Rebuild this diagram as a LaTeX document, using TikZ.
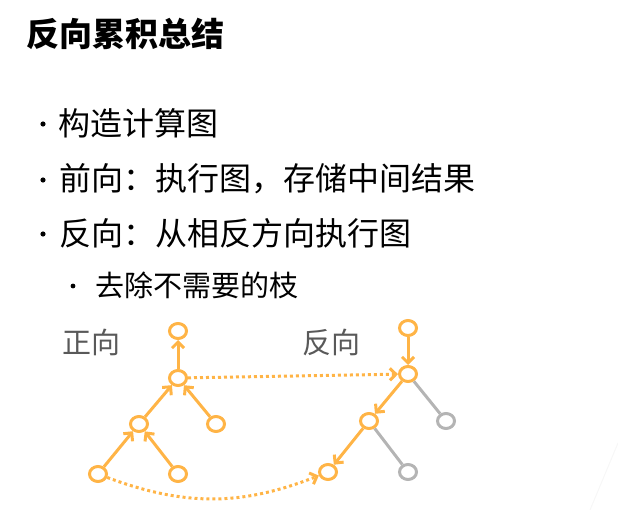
\documentclass[tikz,border=0pt]{standalone}
\usepackage{fontspec}
\usepackage{tikz}
\usetikzlibrary{shapes,arrows,arrows.meta}
\usepackage{xcolor}
\newfontfamily\cjk{Noto Sans CJK SC}
\definecolor{orng}{RGB}{255,180,70}
\definecolor{grey}{RGB}{180,180,180}
\definecolor{lbl}{RGB}{89,89,89}
\tikzset{
  nd/.style={ellipse, draw=orng, line width=3pt, minimum width=17pt, minimum height=15pt, inner sep=0pt},
  ndg/.style={nd, draw=grey},
  edge/.style={draw=orng, line width=3pt, -{Straight Barb[length=6pt,width=12pt]}},
  cut/.style={draw=grey, line width=3pt},
  hop/.style={draw=orng, line width=3pt, dash pattern=on 3pt off 3pt, -{Straight Barb[length=6pt,width=12pt]}},
  txt/.style={anchor=west, inner sep=0pt, font=\cjk\fontsize{32}{38}\selectfont}
}

\begin{document}
\begin{tikzpicture}[x=1pt,y=1pt]
   \useasboundingbox (0,0) rectangle (618,-510);
   % text
   \node[txt, font=\cjk\bfseries\fontsize{33}{40}\selectfont] (title) at (26,-34) {反向累积总结};
   \node[txt] (l1) at (58,-123) {构造计算图};
   \node[txt] (l2) at (59,-179) {前向：执行图，存储中间结果};
   \node[txt] (l3) at (59,-233) {反向：从相反方向执行图};
   \node[txt, font=\cjk\fontsize{29}{35}\selectfont] (l4) at (95,-285) {去除不需要的枝};
   \fill (43,-124) circle (2.6);
   \fill (43,-180) circle (2.6);
   \fill (43,-234) circle (2.6);
   \fill (73,-286) circle (2.4);
   \node[txt, text=lbl, font=\cjk\fontsize{29}{35}\selectfont] (fwd) at (62,-342) {正向};
   \node[txt, text=lbl, font=\cjk\fontsize{29}{35}\selectfont] (bwd) at (302,-342) {反向};
   % forward tree
   \node[nd] (f0) at (178,-331) {};
   \node[nd] (f1) at (178,-378) {};
   \node[nd] (f2) at (139,-424) {};
   \node[nd] (f3) at (216,-424) {};
   \node[nd] (f4) at (98,-474) {};
   \node[nd] (f5) at (178,-474) {};
   \draw[edge] (f1) -- (f0);
   \draw[edge] (f2) -- (f1);
   \draw[edge] (f3) -- (f1);
   \draw[edge] (f4) -- (f2);
   \draw[edge] (f5) -- (f2);
   % backward tree
   \node[nd] (b0) at (408,-328) {};
   \node[nd] (b1) at (408,-374) {};
   \node[nd] (b2) at (369,-421) {};
   \node[ndg] (b3) at (446,-421) {};
   \node[nd] (b4) at (328,-472) {};
   \node[ndg] (b5) at (408,-472) {};
   \draw[edge] (b0) -- (b1);
   \draw[edge] (b1) -- (b2);
   \draw[edge] (b2) -- (b4);
   \draw[cut] (b1) -- (b3);
   \draw[cut] (b2) -- (b5);
   % dotted links
   \draw[hop] (f1) -- (b1);
   \draw[hop] (f4) to[bend right=21] (b4);
   \draw[gray!6, line width=1pt] (618,-443) -- (590,-510);
\end{tikzpicture}
\end{document}
